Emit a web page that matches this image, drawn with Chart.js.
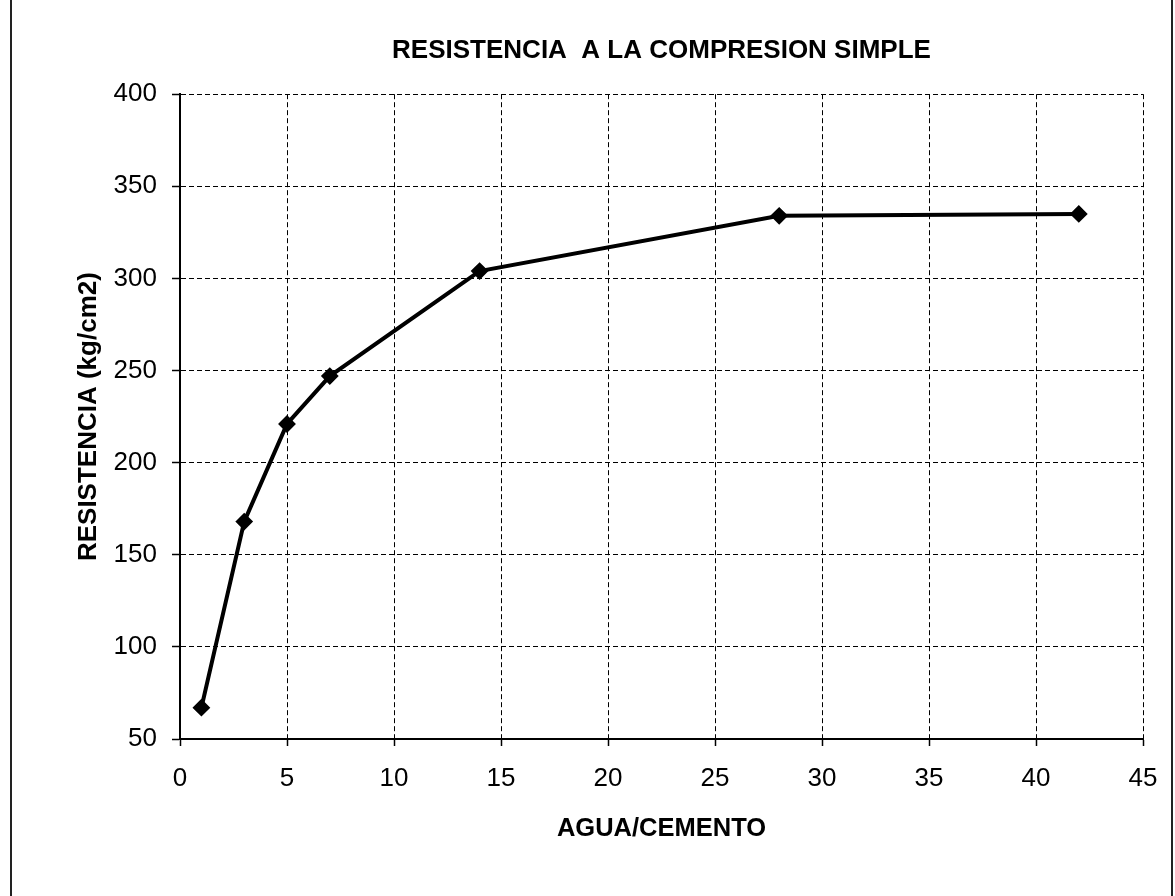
<!DOCTYPE html>
<html>
<head>
<meta charset="utf-8">
<script src="https://cdn.jsdelivr.net/npm/chart.js@4.4.1/dist/chart.umd.min.js"></script>
<style>
  html, body { margin: 0; padding: 0; background: #fff; }
  #wrap { position: relative; width: 1175px; height: 896px; }
  #frameL, #frameR { position: absolute; top: 0; width: 2px; height: 896px; background: #222; }
  #frameL { left: 10px; }
  #frameR { left: 1171px; }
  canvas { position: absolute; left: 0; top: 0; }
</style>
</head>
<body>
<div id="wrap">
  <canvas id="c" width="1175" height="896"></canvas>
  <div id="frameL"></div>
  <div id="frameR"></div>
</div>
<script>
// Compressive strength vs water/cement
const aguaCemento = [1, 3, 5, 7, 14, 28, 42];
const resistencia = [67, 168, 221, 247, 304, 334, 335];
const xTicks = [0, 5, 10, 15, 20, 25, 30, 35, 40, 45];
const yTicks = [50, 100, 150, 200, 250, 300, 350, 400];

const FONT = "'Liberation Sans', Arial, sans-serif";

const points = aguaCemento.map((x, i) => ({ x: x, y: resistencia[i] }));

const gridStyle = {
  color: '#000',
  lineWidth: 1,
  tickBorderDash: [],
  tickColor: '#000',
  tickWidth: 1.5
};
const axisBorder = { display: true, color: '#000', width: 2, dash: [5, 3] };

new Chart(document.getElementById('c'), {
  type: 'scatter',
  data: {
    datasets: [{
      data: points,
      showLine: true,
      borderColor: '#000',
      backgroundColor: '#000',
      borderWidth: 4,
      pointStyle: 'rectRot',
      pointRadius: 7.5,
      pointBorderWidth: 2,
      pointBorderColor: '#000',
      pointBackgroundColor: '#000',
      tension: 0
    }]
  },
  options: {
    responsive: false,
    animation: false,
    layout: { padding: { left: 0, right: 32, top: 0, bottom: 47 } },
    plugins: {
      legend: { display: false },
      tooltip: { enabled: false },
      title: {
        display: true,
        fullSize: false,
        text: 'RESISTENCIA  A LA COMPRESION SIMPLE',
        color: '#000',
        font: { family: FONT, size: 26, weight: 'bold' },
        padding: { top: 35, bottom: 28 }
      }
    },
    scales: {
      x: {
        type: 'linear',
        min: 0, max: 45,
        afterBuildTicks: s => { s.ticks = xTicks.map(v => ({ value: v })); },
        afterFit: s => { s.height = 110; },
        ticks: {
          color: '#000',
          font: { family: FONT, size: 26 },
          padding: 17,
          maxRotation: 0
        },
        grid: Object.assign({ tickLength: 7 }, gridStyle),
        border: axisBorder,
        title: {
          display: true,
          text: 'AGUA/CEMENTO',
          color: '#000',
          font: { family: FONT, size: 25.5, weight: 'bold' },
          padding: { top: 0, bottom: 5 }
        }
      },
      y: {
        type: 'linear',
        min: 50, max: 400,
        afterBuildTicks: s => { s.ticks = yTicks.map(v => ({ value: v })); },
        afterFit: s => { s.width = 180; },
        ticks: {
          color: '#000',
          font: { family: FONT, size: 26 },
          padding: 15
        },
        grid: Object.assign({ tickLength: 8 }, gridStyle),
        border: axisBorder,
        title: {
          display: true,
          text: 'RESISTENCIA (kg/cm2)',
          color: '#000',
          font: { family: FONT, size: 26, weight: 'bold' },
          padding: { top: 73, bottom: 0 }
        }
      }
    }
  }
});
</script>
</body>
</html>
